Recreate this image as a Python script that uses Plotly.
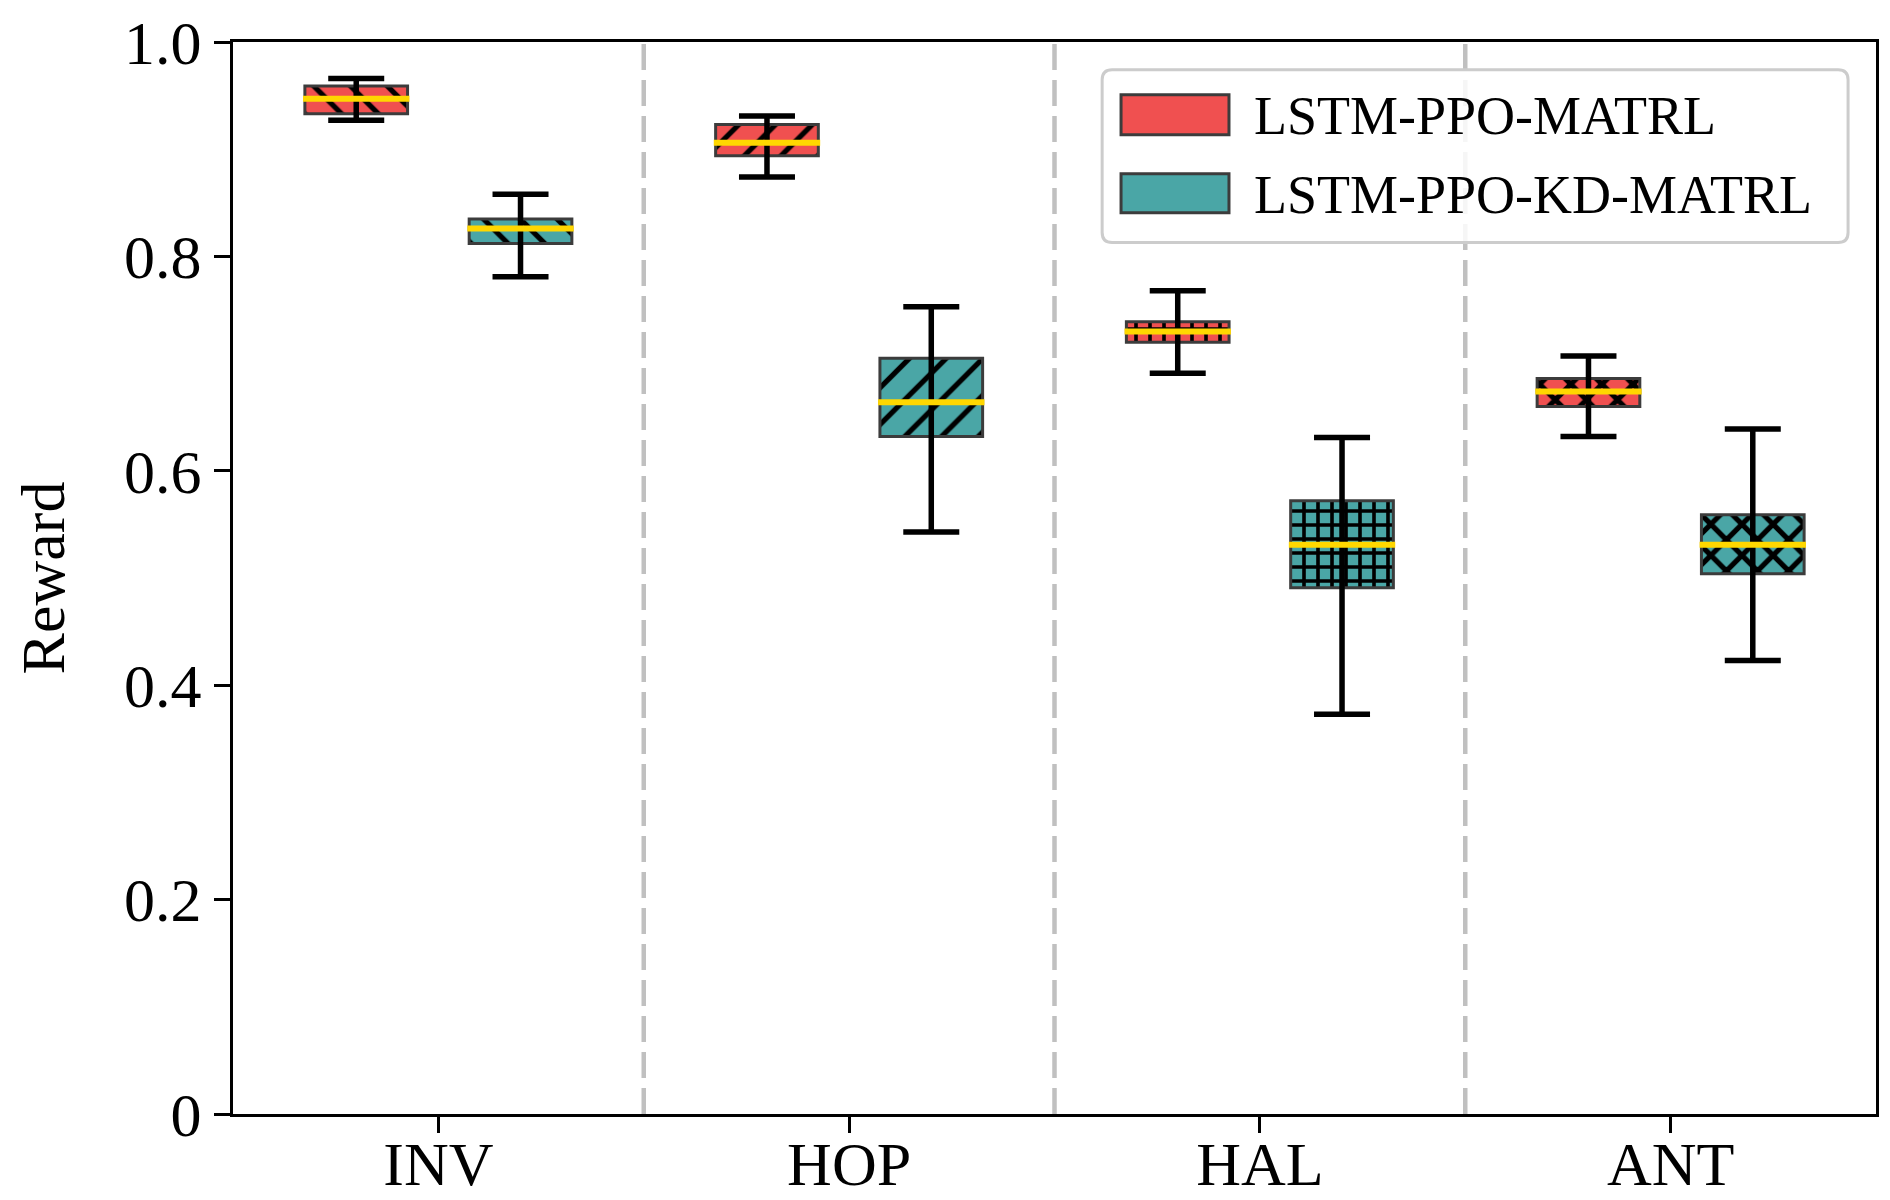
import numpy as np
import plotly.graph_objects as go

# data
categorias = ["INV", "HOP", "HAL", "ANT"]
padroes = ["\\", "/", "+", "x"]
nomes = ["LSTM-PPO-MATRL", "LSTM-PPO-KD-MATRL"]

red_low = [0.927, 0.874, 0.691, 0.632]
red_q1 = [0.933, 0.894, 0.720, 0.660]
red_med = [0.947, 0.906, 0.730, 0.674]
red_q3 = [0.959, 0.923, 0.739, 0.686]
red_high = [0.966, 0.931, 0.768, 0.707]

teal_low = [0.781, 0.543, 0.373, 0.423]
teal_q1 = [0.812, 0.632, 0.491, 0.504]
teal_med = [0.826, 0.664, 0.531, 0.531]
teal_q3 = [0.835, 0.705, 0.572, 0.559]
teal_high = [0.858, 0.753, 0.631, 0.639]

ytick_vals = [0, 0.2, 0.4, 0.6, 0.8, 1.0]
ytick_text = ["0", "0.2", "0.4", "0.6", "0.8", "1.0"]

cores = ["#F05050", "#4AA6A6"]
FONTE = "Liberation Serif, Times New Roman, serif"

fig = go.Figure()

series = [
    (red_low, red_q1, red_med, red_q3, red_high),
    (teal_low, teal_q1, teal_med, teal_q3, teal_high),
]
idx = np.arange(len(categorias))

#caixas com hachura + whiskers (error bars)
for k, (lo, q1, med, q3, hi) in enumerate(series):
    lo, q1, med, q3, hi = map(np.array, (lo, q1, med, q3, hi))
    xs = idx + (-0.2 if k == 0 else 0.2)
    sizes = [26, 26, 14, 22]
    solid = [0.2, 0.2, 0.45, 0.42]
    fig.add_trace(go.Bar(
        x=xs, y=q3 - q1, base=q1, width=0.25,
        marker=dict(color=cores[k],
                    line=dict(color="#3c3c3c", width=3),
                    pattern=dict(shape=padroes, fgcolor="black", fgopacity=1,
                                 size=sizes, solidity=solid)),
        error_y=dict(type="data", symmetric=False, array=hi - q3, arrayminus=q3 - lo,
                     color="black", thickness=5.5, width=28),
        showlegend=False, name=nomes[k],
    ))
    #mediana
    fig.add_trace(go.Scatter(
        x=xs, y=med, mode="markers",
        marker=dict(symbol="line-ew-open", size=76, color="#FFD700",
                    line=dict(color="#FFD700", width=6)),
        showlegend=False, hoverinfo="skip",
    ))

#separadores tracejados
for i in range(len(categorias) - 1):
    fig.add_shape(type="line", xref="x", yref="paper", x0=i + 0.5, x1=i + 0.5, y0=0, y1=1,
                  line=dict(color="#C0C0C0", width=4.5, dash="26px,10px"), layer="below")

#legenda manual (caixa arredondada)
x0, x1, y0, y1 = 0.529, 0.983, 0.813, 0.974
rx, ry = 10 / 1643, 10 / 1072
caminho = (f"M{x0+rx},{y0} L{x1-rx},{y0} Q{x1},{y0} {x1},{y0+ry} L{x1},{y1-ry} "
           f"Q{x1},{y1} {x1-rx},{y1} L{x0+rx},{y1} Q{x0},{y1} {x0},{y1-ry} "
           f"L{x0},{y0+ry} Q{x0},{y0} {x0+rx},{y0} Z")
fig.add_shape(type="path", xref="paper", yref="paper", path=caminho,
              fillcolor="rgba(255,255,255,0.85)", line=dict(color="#CCCCCC", width=3), layer="above")
patch_y = [(0.9135, 0.9508), (0.8407, 0.8771)]
texto_y = [0.9313, 0.8576]
for k in range(2):
    fig.add_shape(type="rect", xref="paper", yref="paper", x0=0.5405, x1=0.6062,
                  y0=patch_y[k][0], y1=patch_y[k][1], fillcolor=cores[k],
                  line=dict(color="#3c3c3c", width=3), layer="above")
    fig.add_annotation(xref="paper", yref="paper", x=0.620, y=texto_y[k], text=nomes[k],
                       showarrow=False, xanchor="left", yanchor="middle",
                       font=dict(family=FONTE, size=54, color="black"))

fig.update_layout(
    width=1890, height=1200,
    margin=dict(l=225, r=22, t=34, b=94),
    plot_bgcolor="white", paper_bgcolor="white",
    barmode="overlay",
    font=dict(family=FONTE, size=62, color="black"),
    showlegend=False,
)
fig.update_xaxes(range=[-0.5, 3.5], tickvals=idx, ticktext=categorias,
                 showline=True, linecolor="black", linewidth=3, mirror=True,
                 ticks="outside", ticklen=16, tickwidth=3, tickcolor="black",
                 automargin=False, ticklabelstandoff=-22,
                 showgrid=False, zeroline=False, tickfont=dict(size=62))
fig.update_yaxes(range=[0, 1.0], tickvals=ytick_vals, ticktext=ytick_text,
                 showline=True, linecolor="black", linewidth=3, mirror=True,
                 ticks="outside", ticklen=16, tickwidth=3, tickcolor="black",
                 ticklabeloverflow="allow", automargin=False,
                 showgrid=False, zeroline=False, tickfont=dict(size=62),
                 title=dict(text="Reward", font=dict(size=62), standoff=40))

fig.write_html("out.html")
